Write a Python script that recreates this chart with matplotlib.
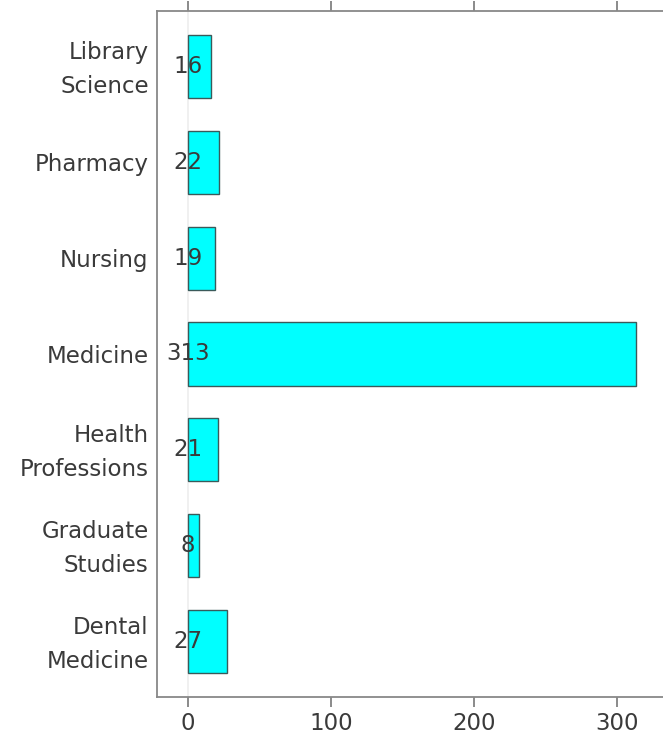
import matplotlib
matplotlib.use("Agg")
import matplotlib.pyplot as plt
import matplotlib.transforms as mtransforms
import numpy as np

# schools, bottom to top
schools = ["Dental\nMedicine", "Graduate\nStudies", "Health\nProfessions", "Medicine",
           "Nursing", "Pharmacy", "Library\nScience"]
counts = [27, 8, 21, 313, 19, 22, 16]
xticks = [0, 100, 200, 300]

plt.rcParams['font.family'] = ['DejaVu Sans']
txt = '#3a3a3a'
fs = 16.5

fig = plt.figure(figsize=(6.63, 7.38), dpi=100)
ax = fig.add_axes([0.2368, 0.0556, 0.78, 0.9295])

y = np.arange(len(schools))
ax.barh(y, counts, height=0.66, color='#00ffff', edgecolor='#3a5a5a', linewidth=1.0, zorder=2)
ax.axvline(0, color='#eeeeee', lw=1.2, zorder=1)

for yi, c in zip(y, counts):
    ax.text(0, yi, str(c), ha='center', va='center', fontsize=fs, color=txt, zorder=3)

ax.set_xlim(-21.7, 340)
ax.set_ylim(-0.58, 6.58)
ax.set_yticks(y)
ax.set_yticklabels(schools, fontsize=fs, color=txt, linespacing=1.6)
ax.set_xticks(xticks)
ax.set_xticklabels([str(v) for v in xticks], fontsize=fs, color=txt)
ax.tick_params(axis='y', length=0, pad=6)
ax.tick_params(axis='x', length=7, width=1.2, color='#777777', top=True, direction='out', pad=4)

# two-line labels sit a little higher in the original
shift = mtransforms.ScaledTranslation(0, 5 / 100, fig.dpi_scale_trans)
for lab in ax.get_yticklabels():
    if "\n" in lab.get_text():
        lab.set_transform(lab.get_transform() + shift)

for s in ['left', 'bottom', 'top']:
    ax.spines[s].set_color('#888888')
    ax.spines[s].set_linewidth(1.3)
ax.spines['right'].set_visible(False)

fig.savefig("out.png", dpi=100)
